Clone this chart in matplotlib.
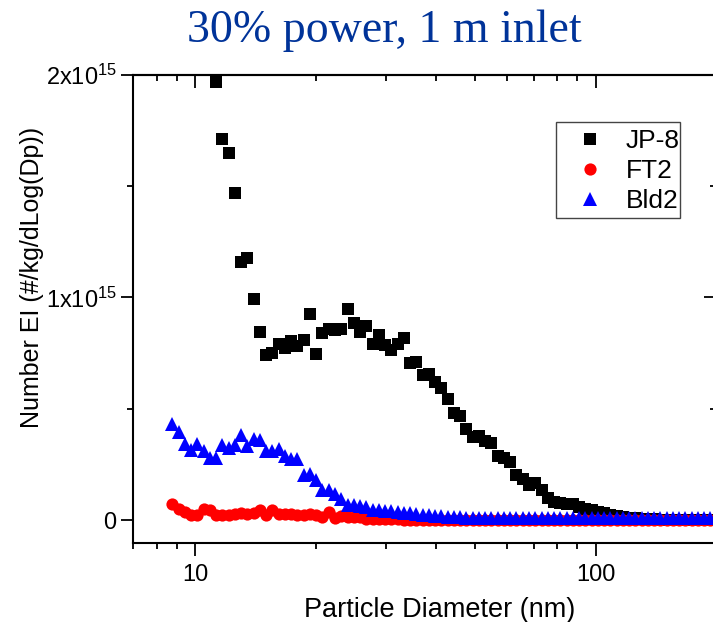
import matplotlib
matplotlib.use("Agg")
import matplotlib.pyplot as plt
from matplotlib.ticker import FixedLocator, FuncFormatter, NullFormatter
from matplotlib.patches import Rectangle

plt.rcParams['font.family'] = ['Liberation Sans', 'DejaVu Sans']
plt.rcParams['mathtext.fontset'] = 'custom'
plt.rcParams['mathtext.rm'] = 'Liberation Sans'
plt.rcParams['mathtext.default'] = 'regular'

# Particle diameter channels (nm)
diam = [8.76, 9.08, 9.41, 9.76, 10.12, 10.49, 10.87, 11.27, 11.68, 12.11,
        12.55, 13.01, 13.49, 13.98, 14.50, 15.03, 15.58, 16.15, 16.74, 17.35,
        17.99, 18.65, 19.33, 20.04, 20.77, 21.53, 22.32, 23.14, 23.99, 24.87,
        25.78, 26.72, 27.70, 28.72, 29.77, 30.86, 31.99, 33.16, 34.38, 35.63,
        36.94, 38.29, 39.70, 41.15, 42.66, 44.22, 45.84, 47.52, 49.26, 51.06,
        52.93, 54.87, 56.88, 58.97, 61.13, 63.37, 65.69, 68.10, 70.59, 73.18,
        75.86, 78.64, 81.52, 84.50, 87.60, 90.81, 94.14, 97.59, 101.16, 104.87,
        108.71, 112.69, 116.82, 121.10, 125.53, 130.13, 134.90, 139.84, 144.96, 150.27,
        155.78, 161.48, 167.40, 173.53, 179.89, 186.48, 193.31]

# JP-8 (starts at 8th channel), units of 1e14
jp8 = [19.67, 17.09, 16.49, 14.69, 11.59, 11.77, 9.95, 8.45, 7.41, 7.53,
       7.90, 7.75, 8.05, 7.82, 8.08, 9.28, 7.48, 8.41, 8.60, 8.53,
       8.60, 9.50, 8.86, 8.45, 8.72, 7.93, 8.30, 7.85, 7.63, 7.90,
       8.16, 7.06, 7.10, 6.51, 6.58, 6.20, 5.96, 5.46, 4.83, 4.68,
       4.08, 3.74, 3.78, 3.56, 3.49, 2.89, 2.81, 2.62, 2.02, 1.84,
       1.57, 1.69, 1.35, 1.02, 0.82, 0.78, 0.75, 0.72, 0.60, 0.52,
       0.45, 0.38, 0.32, 0.26, 0.20, 0.15, 0.12, 0.10, 0.08, 0.06,
       0.05, 0.04, 0.03, 0.03, 0.02, 0.02, 0.02, 0.01, 0.01, 0.01]

ft2 = [0.75, 0.53, 0.37, 0.22, 0.22, 0.53, 0.45, 0.22, 0.22, 0.22,
       0.27, 0.33, 0.30, 0.33, 0.45, 0.22, 0.45, 0.27, 0.27, 0.30,
       0.26, 0.26, 0.27, 0.22, 0.15, 0.37, 0.12, 0.18, 0.15, 0.15,
       0.15, 0.08, 0.08, 0.07, 0.06, 0.06, 0.05, 0.04, 0.04, 0.03,
       0.03, 0.02, 0.02, 0.02, 0.02, 0.02, 0.01, 0.01, 0.01, 0.01,
       0.01, 0.01, 0.01, 0.01, 0.0, 0.0, 0.0, 0.0, 0.0, 0.0,
       0.0, 0.0, 0.0, 0.0, 0.0, 0.0, 0.0, 0.0, 0.0, 0.0,
       0.0, 0.0, 0.0, 0.0, 0.0, 0.0, 0.0, 0.0, 0.0, 0.0,
       0.0, 0.0, 0.0, 0.0, 0.0, 0.0, 0.0]

bld2 = [4.31, 3.96, 3.41, 3.17, 3.41, 3.11, 2.81, 2.81, 3.37, 3.26,
        3.37, 3.81, 3.32, 3.67, 3.59, 3.11, 3.11, 3.22, 2.87, 2.77,
        2.77, 2.02, 2.10, 1.80, 1.35, 1.35, 1.20, 0.97, 0.67, 0.67,
        0.63, 0.60, 0.48, 0.45, 0.42, 0.40, 0.37, 0.34, 0.31, 0.28,
        0.25, 0.22, 0.20, 0.18, 0.16, 0.15, 0.14, 0.13, 0.13, 0.12,
        0.12, 0.12, 0.11, 0.11, 0.11, 0.11, 0.10, 0.10, 0.10, 0.10,
        0.10, 0.10, 0.10, 0.10, 0.10, 0.10, 0.10, 0.10, 0.10, 0.10,
        0.10, 0.10, 0.10, 0.10, 0.10, 0.10, 0.10, 0.10, 0.10, 0.10,
        0.10, 0.10, 0.10, 0.10, 0.10, 0.10, 0.10]

labels = ['JP-8', 'FT2', 'Bld2']
colors = ['black', 'red', 'blue']
markers = ['s', 'o', '^']

W, H = 713, 622
fig = plt.figure(figsize=(7.13, 6.22), dpi=100)
ax = fig.add_axes([0.187, 0.1275, 0.8177, 0.7527])

scale = 1e14
ax.plot(diam[7:7 + len(jp8)], [v * scale for v in jp8], linestyle='none',
        marker=markers[0], color=colors[0], ms=8.2, mew=0, label=labels[0])
ax.plot(diam[:len(ft2)], [v * scale for v in ft2], linestyle='none',
        marker=markers[1], color=colors[1], ms=8.8, mew=0, label=labels[1])
ax.plot(diam[:len(bld2)], [v * scale for v in bld2], linestyle='none',
        marker=markers[2], color=colors[2], ms=9.5, mew=0, label=labels[2])

ax.set_xscale('log')
ax.set_xlim(7, 200)
ax.set_ylim(-1e14, 2e15)

ax.xaxis.set_major_locator(FixedLocator([10, 100]))
ax.xaxis.set_minor_locator(FixedLocator([7, 8, 9, 20, 30, 40, 50, 60, 70, 80, 90, 200]))
ax.xaxis.set_major_formatter(FuncFormatter(lambda v, p: '%d' % v))
ax.xaxis.set_minor_formatter(NullFormatter())

ax.yaxis.set_major_locator(FixedLocator([0, 1e15, 2e15]))
ax.yaxis.set_minor_locator(FixedLocator([5e14, 1.5e15]))
ytl = {0: '0', 1: '1x10$^{15}$', 2: '2x10$^{15}$'}
ax.yaxis.set_major_formatter(FuncFormatter(lambda v, p: ytl.get(int(round(v / 1e15)), '')))

for s in ax.spines.values():
    s.set_linewidth(1.5)

ax.tick_params(axis='both', which='major', labelsize=17, width=1.3, length=9)
ax.tick_params(axis='both', which='minor', width=1.3, length=4.5)
ax.tick_params(axis='x', which='both', direction='out', pad=6)
ax.tick_params(axis='y', which='both', direction='out', pad=3)

# Mirrored inward ticks on top/right
axt = ax.secondary_xaxis('top')
axt.xaxis.set_major_locator(FixedLocator([10, 100]))
axt.xaxis.set_minor_locator(FixedLocator([7, 8, 9, 20, 30, 40, 50, 60, 70, 80, 90, 200]))
axt.tick_params(axis='x', which='both', direction='in', labeltop=False, width=1.3)
axt.tick_params(axis='x', which='major', length=9)
axt.tick_params(axis='x', which='minor', length=4.5)
axt.spines['top'].set_linewidth(1.5)
axr = ax.secondary_yaxis('right')
axr.yaxis.set_major_locator(FixedLocator([0, 1e15, 2e15]))
axr.yaxis.set_minor_locator(FixedLocator([5e14, 1.5e15]))
axr.tick_params(axis='y', which='both', direction='in', labelright=False, width=1.3)
axr.tick_params(axis='y', which='major', length=9)
axr.tick_params(axis='y', which='minor', length=4.5)

fig.text(440 / W, 5 / H, 'Particle Diameter (nm)', ha='center', va='baseline', fontsize=19.5)
fig.text(32 / W, 1 - 277.6 / H, 'Number EI (#/kg/dLog(Dp))', rotation=90,
         ha='center', va='center', fontsize=18)
fig.text(384 / W, 1 - 41.5 / H, '30% power, 1 m inlet', ha='center', va='baseline',
         fontsize=33, color='#003399', family=['Liberation Serif', 'DejaVu Serif'])

# Legend (entries without frame) plus a separate box
leg = fig.legend(loc='center left', bbox_to_anchor=(574 / W, 1 - 171 / H),
                 fontsize=19, frameon=False, handletextpad=0.75, borderpad=0,
                 labelspacing=0.22, handlelength=1.2, borderaxespad=0)
fig.add_artist(Rectangle((555.7 / W, 1 - 217.7 / H), (680 - 555.7) / W, (217.7 - 122.3) / H,
                         transform=fig.transFigure, fill=False, edgecolor='#444444', lw=1.0))

fig.savefig('out.png', dpi=100)
